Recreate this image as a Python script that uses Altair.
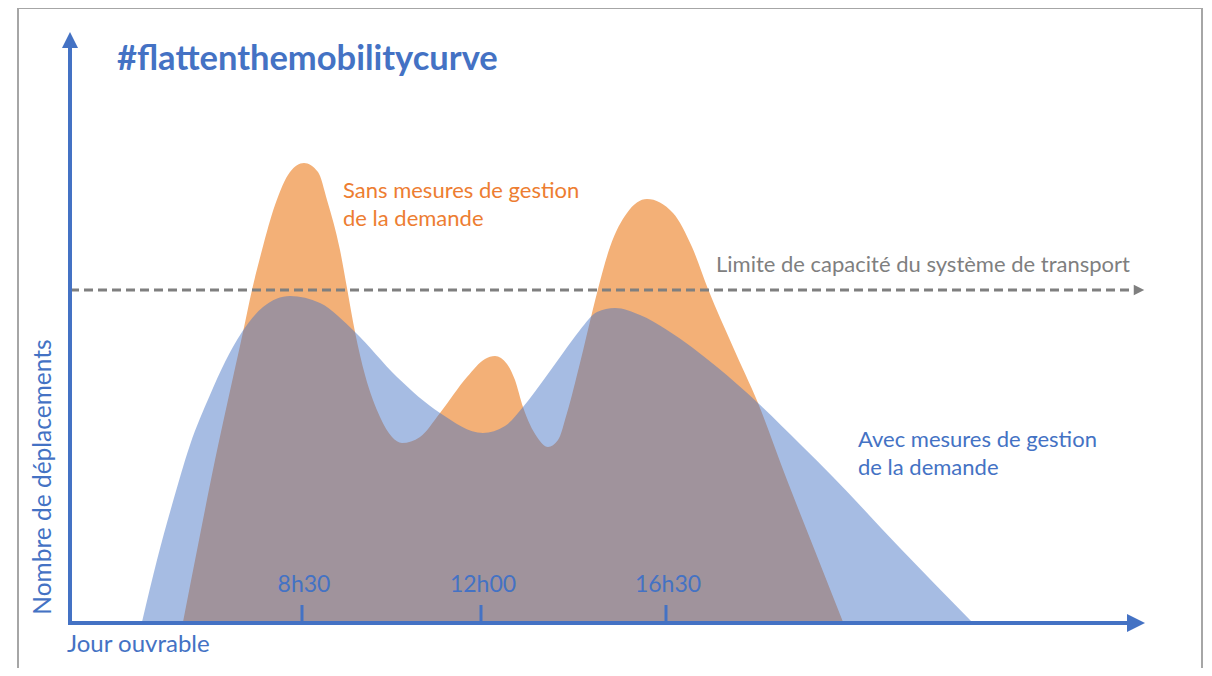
import altair as alt
import pandas as pd

# ---- data (schematic x position along the working day, number of trips) ----
sans_x = [183, 200, 215, 228, 243, 252, 262, 275, 290, 304, 318, 327, 340, 347, 355, 365, 380, 392,
          402, 420, 440, 467, 485, 495, 507, 515, 523, 537, 548, 558, 567, 580, 592, 598, 610, 627,
          647, 673, 692, 708, 733, 758, 787, 815, 843]
sans_y = [0, 87, 162, 222, 290, 332, 372, 417, 450, 459, 450, 422, 372, 334, 290, 247, 205, 185,
          179, 185, 209, 245, 263, 266, 258, 242, 215, 185, 175, 182, 209, 259, 309, 333, 375, 409,
          423, 409, 375, 333, 275, 219, 142, 71, 0]

avec_x = [142, 157, 172, 190, 210, 225, 242, 263, 290, 320, 355, 397, 440, 483, 505, 523, 545, 563,
          580, 597, 615, 640, 667, 717, 758, 800, 833, 900, 972]
avec_y = [0, 62, 117, 177, 227, 260, 290, 315, 326, 319, 290, 245, 209, 189, 196, 215, 244, 269,
          292, 310, 314, 307, 292, 255, 219, 178, 145, 74, 0]

capacity = 332
tick_pos = [302, 481, 666]
tick_labels = ["8h30", "12h00", "16h30"]

BLUE = "#4472c4"
ORANGE_FILL = "#f3b077"
ORANGE_TXT = "#ed7d31"
GREY = "#7f7f7f"
FONT = "Lato"

W, H = 1196, 660
xs = alt.Scale(domain=[8, 1204], nice=False, zero=False)
ys = alt.Scale(domain=[-46, 614], nice=False, zero=False)


def X(f):
    return alt.X(f"{f}:Q", scale=xs, axis=None)


def Y(f):
    return alt.Y(f"{f}:Q", scale=ys, axis=None)


def one(**kw):
    return pd.DataFrame({k: [v] for k, v in kw.items()})


sans_df = pd.DataFrame({"x": sans_x, "y": sans_y, "b": [0] * len(sans_x)})
avec_df = pd.DataFrame({"x": avec_x, "y": avec_y, "b": [0] * len(avec_x)})
ticks_df = pd.DataFrame({"x": tick_pos, "label": tick_labels,
                         "y0": [0] * 3, "y1": [17] * 3, "ly": [37] * 3})

frame = alt.Chart(one(x=18, x2=1202, y=614, y2=-70)).mark_rect(
    fillOpacity=0, stroke="#a6a6a6", strokeWidth=2
).encode(x=X("x"), x2="x2:Q", y=Y("y"), y2="y2:Q")

sans = alt.Chart(sans_df).mark_area(color=ORANGE_FILL, opacity=1, interpolate="monotone").encode(
    x=X("x"), y=Y("y"), y2="b:Q"
)
avec = alt.Chart(avec_df).mark_area(color=BLUE, opacity=0.48, interpolate="monotone").encode(
    x=X("x"), y=Y("y"), y2="b:Q"
)

cap_line = alt.Chart(one(x=70, x2=1136, y=capacity)).mark_rule(
    color=GREY, strokeWidth=3, strokeDash=[9, 5]
).encode(x=X("x"), x2="x2:Q", y=Y("y"))
cap_arrow = alt.Chart(one(x=1139, y=capacity)).mark_point(
    shape="M1,0L-1,-1L-1,1Z", filled=True, color=GREY, opacity=1, size=110
).encode(x=X("x"), y=Y("y"))

y_axis = alt.Chart(one(x=70, y=-3, y2=576)).mark_rule(color=BLUE, strokeWidth=4).encode(
    x=X("x"), y=Y("y"), y2="y2:Q"
)
y_arrow = alt.Chart(one(x=70, y=582)).mark_point(
    shape="M0,-1L1,1L-1,1Z", filled=True, color=BLUE, opacity=1, size=256
).encode(x=X("x"), y=Y("y"))

x_axis = alt.Chart(one(x=68, x2=1130, y=-1)).mark_rule(color=BLUE, strokeWidth=4).encode(
    x=X("x"), x2="x2:Q", y=Y("y")
)
x_arrow = alt.Chart(one(x=1136, y=-1)).mark_point(
    shape="M1,0L-1,-1L-1,1Z", filled=True, color=BLUE, opacity=1, size=324
).encode(x=X("x"), y=Y("y"))

ticks = alt.Chart(ticks_df).mark_rule(color=BLUE, strokeWidth=3).encode(
    x=X("x"), y=Y("y0"), y2="y1:Q"
)
tick_text = alt.Chart(ticks_df).mark_text(
    color=BLUE, font=FONT, fontSize=23, align="center", baseline="middle", dx=2
).encode(x=X("x"), y=Y("ly"), text="label:N")


def label(txt, x, y, color, size=22, weight="normal", align="left", angle=0):
    return alt.Chart(one(t=txt, x=x, y=y)).mark_text(
        color=color, font=FONT, fontSize=size, fontWeight=weight, align=align,
        baseline="middle", angle=angle
    ).encode(x=X("x"), y=Y("y"), text="t:N")


texts = [
    label("#flattenthemobilitycurve", 117, 562, BLUE, size=34.5, weight="bold"),
    label("Sans mesures de gestion", 343, 431, ORANGE_TXT),
    label("de la demande", 343, 403, ORANGE_TXT),
    label("Limite de capacité du système de transport", 716, 357, GREY),
    label("Avec mesures de gestion", 858, 182, BLUE),
    label("de la demande", 858, 154, BLUE),
    label("Jour ouvrable", 67, -23, BLUE, size=24),
    label("Nombre de déplacements", 44, 145, BLUE, size=24.5, align="center", angle=270),
]

chart = alt.layer(
    frame, sans, avec, cap_line, cap_arrow, y_axis, y_arrow, x_axis, x_arrow, ticks, tick_text, *texts
).properties(
    width=W, height=H, autosize=alt.AutoSizeParams(type="none"), padding=0
).configure_view(stroke=None)

chart.save("out.html", embed_options={"renderer": "svg", "actions": False})
